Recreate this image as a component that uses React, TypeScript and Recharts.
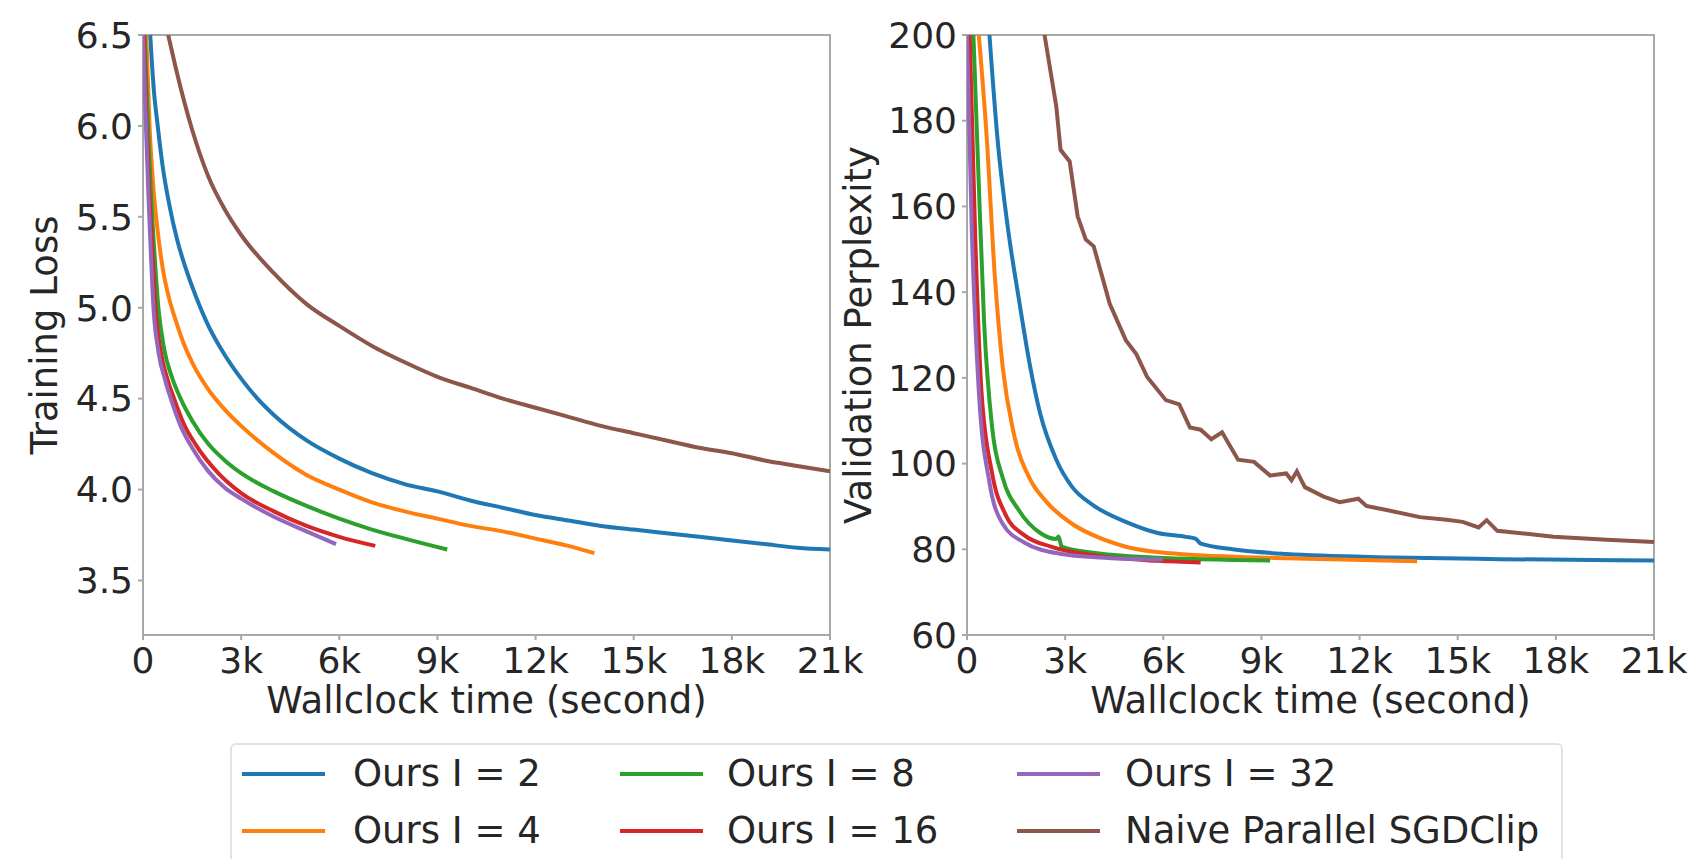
import React from 'react';
import { LineChart, Line, XAxis, YAxis, ReferenceArea } from 'recharts';

// ---------- categories / ticks ----------
const timeTicks = [0, 3000, 6000, 9000, 12000, 15000, 18000, 21000];
const lossTicks = [3.5, 4.0, 4.5, 5.0, 5.5, 6.0, 6.5];
const pplTicks = [60, 80, 100, 120, 140, 160, 180, 200];

const seriesNames = ['Ours I = 2', 'Ours I = 4', 'Ours I = 8', 'Ours I = 16', 'Ours I = 32', 'Naive Parallel SGDClip'];
const seriesColors = ['#1f77b4', '#ff7f0e', '#2ca02c', '#d62728', '#9467bd', '#8c564b'];

// ---------- training loss (time [s], loss) ----------
const lossI2: number[][] = [[220, 6.5], [330, 6.2], [450, 6.0], [600, 5.78], [800, 5.57], [1050, 5.37], [1300, 5.22], [1600, 5.07], [2000, 4.9], [2500, 4.74], [3000, 4.61], [3500, 4.5], [4000, 4.41], [5000, 4.27], [6000, 4.17], [7000, 4.09], [8000, 4.03], [9000, 3.99], [10000, 3.94], [11000, 3.9], [12000, 3.86], [13000, 3.83], [14000, 3.8], [15000, 3.78], [16000, 3.76], [17000, 3.74], [18000, 3.72], [19000, 3.7], [20000, 3.68], [21000, 3.67]];
const lossI4: number[][] = [[100, 6.5], [200, 6.0], [300, 5.7], [450, 5.42], [600, 5.22], [800, 5.05], [1000, 4.93], [1250, 4.8], [1500, 4.7], [2000, 4.55], [2500, 4.44], [3000, 4.35], [4000, 4.2], [5000, 4.08], [6000, 4.0], [7000, 3.93], [8000, 3.88], [9000, 3.84], [10000, 3.8], [11000, 3.77], [12000, 3.73], [13000, 3.69], [13800, 3.65]];
const lossI8: number[][] = [[50, 6.5], [150, 6.0], [250, 5.6], [350, 5.3], [470, 5.0], [650, 4.77], [900, 4.61], [1150, 4.5], [1500, 4.38], [2000, 4.25], [2500, 4.16], [3000, 4.09], [4000, 3.99], [5000, 3.91], [6000, 3.84], [7000, 3.78], [8000, 3.73], [9300, 3.67]];
const lossI16: number[][] = [[30, 6.5], [110, 6.0], [200, 5.6], [290, 5.3], [380, 5.0], [540, 4.76], [760, 4.6], [950, 4.5], [1250, 4.36], [1600, 4.25], [2300, 4.09], [3000, 3.98], [4000, 3.88], [5000, 3.8], [6000, 3.74], [7100, 3.69]];
const lossI32: number[][] = [[0, 6.5], [90, 6.0], [170, 5.6], [240, 5.3], [320, 5.0], [470, 4.76], [680, 4.6], [850, 4.5], [1150, 4.35], [1500, 4.23], [2000, 4.1], [2500, 4.01], [3000, 3.95], [4000, 3.85], [5000, 3.77], [5900, 3.7]];
const lossNaive: number[][] = [[770, 6.5], [1000, 6.32], [1500, 5.98], [2000, 5.72], [2500, 5.54], [3000, 5.4], [4000, 5.19], [5000, 5.02], [6000, 4.9], [7000, 4.79], [8000, 4.7], [9000, 4.62], [10000, 4.56], [11000, 4.5], [12000, 4.45], [13000, 4.4], [14000, 4.35], [15000, 4.31], [16000, 4.27], [17000, 4.23], [18000, 4.2], [19000, 4.16], [20000, 4.13], [21000, 4.1]];

// ---------- validation perplexity (time [s], ppl) ----------
const pplI2: number[][] = [[686, 200], [931, 175.9], [1258, 154.5], [1585, 138.4], [1912, 123.4], [2239, 111.6], [2729, 100.9], [3219, 94.5], [3873, 90.2], [4854, 86.4], [5834, 83.8], [6700, 82.9], [6980, 82.5], [7150, 81.3], [8122, 80.0], [9757, 78.9], [13024, 78.1], [16292, 77.7], [21000, 77.4]];
const pplI4: number[][] = [[360, 200], [605, 175.9], [850, 143.8], [1095, 122.3], [1422, 107.3], [1912, 96.6], [2402, 91.3], [3219, 85.9], [4036, 82.7], [4854, 80.6], [6488, 78.9], [9757, 77.9], [13760, 77.2]];
const pplI8: number[][] = [[196, 200], [360, 165.2], [523, 133.0], [768, 108.4], [1095, 96.6], [1585, 89.1], [2239, 83.8], [2729, 82.4], [2800, 83.0], [2893, 80.6], [4036, 79.0], [5670, 78.1], [9266, 77.4]];
const pplI16: number[][] = [[82, 200], [245, 154.5], [441, 117.0], [768, 97.7], [1177, 88.1], [1749, 83.3], [2566, 80.6], [4036, 78.4], [5834, 77.3], [7142, 76.9]];
const pplI32: number[][] = [[0, 200], [147, 154.5], [360, 117.0], [686, 95.6], [1095, 85.9], [1749, 81.6], [2893, 78.9], [4036, 78.1], [5997, 77.6]];
const pplNaive: number[][] = [[2370, 200], [2729, 183.4], [2860, 173.2], [3138, 170.5], [3383, 157.7], [3628, 152.3], [3873, 150.7], [4363, 137.3], [4854, 128.8], [5180, 125.5], [5507, 120.2], [6079, 114.8], [6488, 113.8], [6815, 108.4], [7142, 107.9], [7469, 105.7], [7796, 107.3], [8286, 100.9], [8776, 100.4], [9266, 97.2], [9757, 97.7], [9920, 96.1], [10083, 98.2], [10328, 94.5], [10900, 92.3], [11391, 91.0], [11963, 91.8], [12208, 90.1], [12862, 89.1], [13842, 87.5], [14659, 86.9], [15149, 86.4], [15640, 85.1], [15885, 86.8], [16211, 84.3], [17110, 83.6], [17927, 82.9], [19561, 82.2], [21000, 81.7]];

const lossSeries = [lossI2, lossI4, lossI8, lossI16, lossI32, lossNaive];
const pplSeries = [pplI2, pplI4, pplI8, pplI16, pplI32, pplNaive];

const toPts = (arr: number[][]) => arr.map(([x, y]) => ({ x, y }));
const fmtTime = (v: number) => (v === 0 ? '0' : `${v / 1000}k`);

const FONT = 'DejaVu Sans';
const TXT = '#262626';
const FRAME = '#a8a8a8';
const tickStyle = { fontSize: 36, fill: TXT, fontFamily: FONT };

function Panel(props: {
  width: number;
  yWidth: number;
  rightMargin: number;
  series: number[][][];
  domain: [number, number];
  ticks: number[];
  yFmt: (v: number) => string;
  yLabel: string;
  yLabelOffset: number;
  linearIdx: number[];
}) {
  const { width, yWidth, rightMargin, series, domain, ticks, yFmt, yLabel, yLabelOffset, linearIdx } = props;
  return (
    <LineChart width={width} height={723} margin={{ top: 35, right: rightMargin, left: 0, bottom: 0 }}>
      <XAxis
        type="number"
        dataKey="x"
        domain={[0, 21000]}
        ticks={timeTicks}
        tickFormatter={fmtTime}
        allowDataOverflow
        height={88}
        axisLine={false}
        tickLine={{ stroke: FRAME, strokeWidth: 2 }}
        tickSize={5}
        tickMargin={7}
        tick={tickStyle}
        interval={0}
        label={{ value: 'Wallclock time (second)', position: 'insideBottom', offset: 10, style: { fontSize: 37, fill: TXT, fontFamily: FONT } }}
      />
      <YAxis
        type="number"
        dataKey="y"
        domain={domain}
        ticks={ticks}
        tickFormatter={yFmt}
        allowDataOverflow
        width={yWidth}
        axisLine={false}
        tickLine={{ stroke: FRAME, strokeWidth: 2 }}
        tickSize={5}
        tickMargin={5}
        tick={tickStyle}
        interval={0}
        label={{ value: yLabel, angle: -90, position: 'insideLeft', offset: yLabelOffset, style: { fontSize: 37, fill: TXT, fontFamily: FONT, textAnchor: 'middle' } }}
      />
      <ReferenceArea x1={0} x2={21000} y1={domain[0]} y2={domain[1]} fill="none" fillOpacity={0} stroke={FRAME} strokeWidth={2} />
      {series.map((s, i) => (
        <Line
          key={seriesNames[i]}
          data={toPts(s)}
          dataKey="y"
          name={seriesNames[i]}
          type={linearIdx.includes(i) ? 'linear' : 'monotone'}
          stroke={seriesColors[i]}
          strokeWidth={4}
          dot={false}
          activeDot={false}
          isAnimationActive={false}
        />
      ))}
    </LineChart>
  );
}

const legendItems = [
  { i: 0, lx: 242, tx: 353, y: 774 },
  { i: 1, lx: 242, tx: 353, y: 831 },
  { i: 2, lx: 620, tx: 727, y: 774 },
  { i: 3, lx: 620, tx: 727, y: 831 },
  { i: 4, lx: 1017, tx: 1125, y: 774 },
  { i: 5, lx: 1017, tx: 1125, y: 831 },
];

export default function App() {
  return (
    <div style={{ position: 'absolute', left: 0, top: 0, width: 1696, height: 859, background: '#fff', overflow: 'hidden', fontFamily: FONT }}>
      <div style={{ position: 'absolute', left: 0, top: 0 }}>
        <Panel
          width={900}
          yWidth={143}
          rightMargin={70}
          series={lossSeries}
          domain={[3.2, 6.5]}
          ticks={lossTicks}
          yFmt={(v) => v.toFixed(1)}
          yLabel="Training Loss"
          yLabelOffset={44}
          linearIdx={[]}
        />
      </div>
      <div style={{ position: 'absolute', left: 780, top: 0 }}>
        <Panel
          width={916}
          yWidth={187}
          rightMargin={42}
          series={pplSeries}
          domain={[60, 200]}
          ticks={pplTicks}
          yFmt={(v) => String(v)}
          yLabel="Validation Perplexity"
          yLabelOffset={78}
          linearIdx={[5]}
        />
      </div>
      <div
        style={{
          position: 'absolute',
          left: 230,
          top: 743,
          width: 1333,
          height: 140,
          border: '2px solid #e2e2e2',
          borderRadius: 6,
          boxSizing: 'border-box',
        }}
      />
      {legendItems.map((it) => (
        <React.Fragment key={it.i}>
          <div style={{ position: 'absolute', left: it.lx, top: it.y - 2, width: 83, height: 4, background: seriesColors[it.i] }} />
          <div style={{ position: 'absolute', left: it.tx, top: it.y - 22, fontSize: 37, lineHeight: '44px', color: TXT, whiteSpace: 'nowrap' }}>
            {seriesNames[it.i]}
          </div>
        </React.Fragment>
      ))}
    </div>
  );
}
